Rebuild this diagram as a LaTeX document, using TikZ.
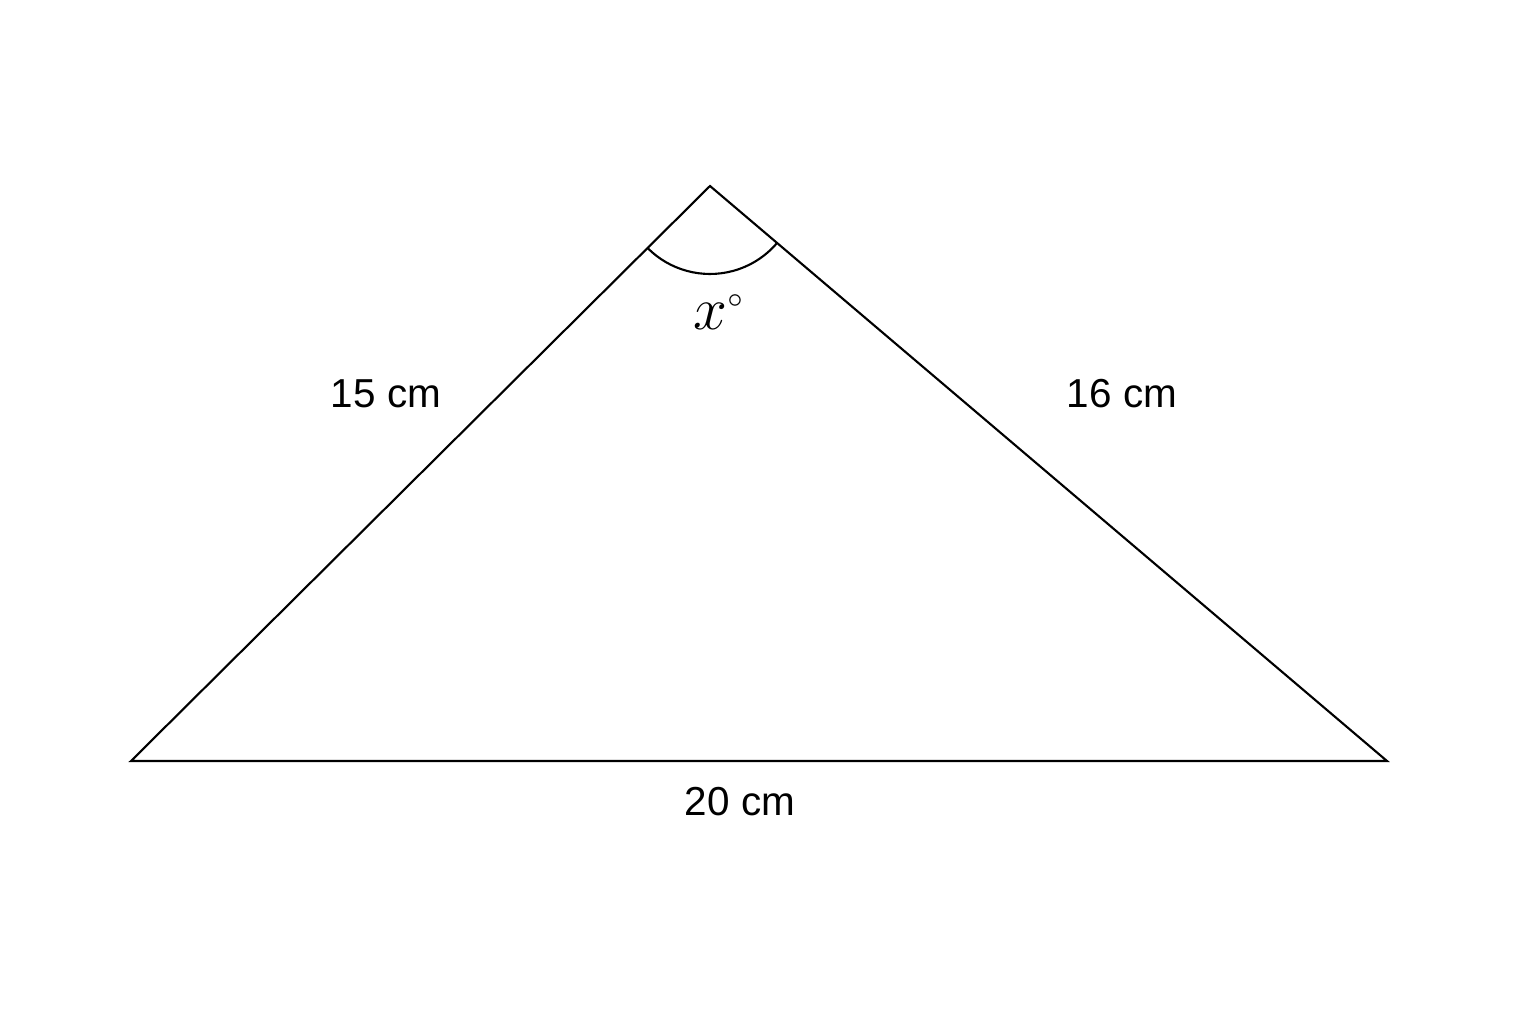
\documentclass[tikz,border=0pt]{standalone}
\usepackage{fontspec}
\setmainfont{Liberation Sans}
\begin{document}
\begin{tikzpicture}[x=0.01cm,y=0.01cm,
  edge/.style={line width=0.6pt,line join=miter},
  lbl/.style={font=\fontsize{11.5}{14}\selectfont,inner sep=0pt}]
\useasboundingbox (0,0) rectangle (1536,1024);
\coordinate (A) at (131,263);
\coordinate (B) at (1387,263);
\coordinate (C) at (710,838);
\draw[edge] (A) -- (B) -- (C) -- cycle;
\draw[edge] (C) ++(224.8:88) arc[start angle=224.8,end angle=319.7,radius=88];
\node[lbl,font=\fontsize{16}{18}\selectfont] (ang) at (719,712) {$x^{\scriptscriptstyle\circ}$};
\node[lbl] (l15) at (386,630) {15 cm};
\node[lbl] (l16) at (1122,630) {16 cm};
\node[lbl] (l20) at (740,222) {20 cm};
\end{tikzpicture}
\end{document}
